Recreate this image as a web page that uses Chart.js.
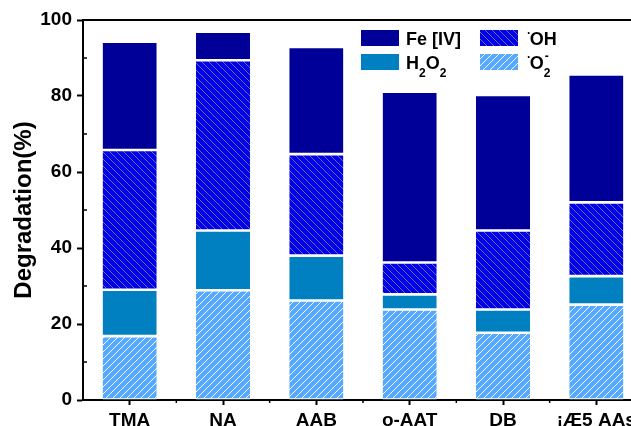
<!DOCTYPE html>
<html>
<head>
<meta charset="utf-8">
<script src="https://cdn.jsdelivr.net/npm/chart.js@4/dist/chart.umd.min.js"></script>
<style>
  html, body { margin: 0; padding: 0; background: #fff; }
  #wrap { width: 631px; height: 426px; overflow: hidden; position: relative; }
  canvas { display: block; }
</style>
</head>
<body>
<div id="wrap"><canvas id="c" width="680" height="426"></canvas></div>
<script>
// Degradation contribution of each reactive species, stacked per compound (%)
const categories = ['TMA', 'NA', 'AAB', 'o-AAT', 'DB', '¡Æ5 AAs'];
const superoxide       = [16.8, 28.9, 26.2, 23.8, 17.7, 25.1]; // ·O2-
const hydrogenPeroxide = [12.2, 15.7, 11.8,  4.0,  6.1,  7.5]; // H2O2
const hydroxyl         = [36.8, 44.8, 26.7,  8.4, 20.8, 19.4]; // ·OH
const ferryl           = [28.5,  7.5, 28.2, 44.9, 35.7, 33.7]; // Fe[IV]
const yMin = 0, yMax = 100, yStep = 20;

const FONT = "'Liberation Sans', Arial, Helvetica, sans-serif";
const canvas = document.getElementById('c');
const ctx = canvas.getContext('2d');

// diagonal hatch fill: dir '/' rises to the right, '\' falls to the right
function hatch(bg, line, dir, size) {
  const t = document.createElement('canvas');
  t.width = t.height = size;
  const g = t.getContext('2d');
  g.fillStyle = bg;
  g.fillRect(0, 0, size, size);
  g.strokeStyle = line;
  g.lineWidth = 1;
  g.beginPath();
  for (const o of [-size, 0, size]) {
    if (dir === '/') { g.moveTo(o, size); g.lineTo(o + size, 0); }
    else { g.moveTo(o, 0); g.lineTo(o + size, size); }
  }
  g.stroke();
  return ctx.createPattern(t, 'repeat');
}

const colFe = '#000099';
const colH2O2 = '#0080C0';
const patOH = hatch('#0000EE', '#6e6e90', '\\', 7);
const patO2 = hatch('#55AAFF', '#ffffff', '/', 7);

const segBorder = { top: 1.3, bottom: 1.3, left: 0, right: 0 };

// rich-text legend (sub/superscripts), laid out in two columns
const legendItems = [
  { fill: colFe, col: 0, row: 0, parts: [{ t: 'Fe [IV]' }] },
  { fill: patOH, col: 1, row: 0, parts: [{ t: '·', k: 'sup' }, { t: 'OH' }] },
  { fill: colH2O2, col: 0, row: 1, parts: [{ t: 'H' }, { t: '2', k: 'sub' }, { t: 'O' }, { t: '2', k: 'sub' }] },
  { fill: patO2, col: 1, row: 1, parts: [{ t: '·', k: 'sup' }, { t: 'O' }, { t: '2', k: 'sub', over: '-' }] }
];

const richLegend = {
  id: 'richLegend',
  afterDraw(chart) {
    const c = chart.ctx, a = chart.chartArea;
    const colX = [a.left + 278, a.left + 397];
    const rowY = [a.top + 10, a.top + 34];
    const bw = 38, bh = 16;
    c.save();
    c.textBaseline = 'alphabetic';
    c.textAlign = 'left';
    c.fillStyle = '#000';
    for (const it of legendItems) {
      const bx = colX[it.col], by = rowY[it.row];
      c.fillStyle = it.fill;
      c.fillRect(bx, by, bw, bh);
      c.fillStyle = '#000';
      let x = bx + bw + (it.col === 0 ? 7 : 9);
      const base = by + 15;
      for (const p of it.parts) {
        if (!p.k) {
          c.font = `bold 18px ${FONT}`;
          c.fillText(p.t, x, base);
          x += c.measureText(p.t).width;
        } else if (p.k === 'sup') {
          c.font = `bold 12px ${FONT}`;
          c.fillText(p.t, x, base - 8);
          x += c.measureText(p.t).width * 0.7;
        } else {
          c.font = `bold 12px ${FONT}`;
          c.fillText(p.t, x, base + 8);
          let w = c.measureText(p.t).width;
          if (p.over) {
            c.fillText(p.over, x + 1, base - 9);
            w = Math.max(w, c.measureText(p.over).width);
          }
          x += w;
        }
      }
    }
    c.restore();
  }
};

// top frame line and minor ticks on both axes
const frame = {
  id: 'frame',
  afterDraw(chart) {
    const c = chart.ctx, a = chart.chartArea;
    const x = chart.scales.x, y = chart.scales.y;
    c.save();
    c.strokeStyle = '#000';
    c.lineWidth = 2;
    c.beginPath();
    c.moveTo(a.left - 1, a.top);
    c.lineTo(a.right, a.top);
    c.stroke();
    c.lineWidth = 1.5;
    c.beginPath();
    for (let v = yMin + yStep / 2; v < yMax; v += yStep) {
      const py = y.getPixelForValue(v);
      c.moveTo(a.left, py);
      c.lineTo(a.left + 4, py);
    }
    for (let i = 0; i < categories.length - 1; i++) {
      const px = (x.getPixelForValue(i) + x.getPixelForValue(i + 1)) / 2;
      c.moveTo(px, a.bottom);
      c.lineTo(px, a.bottom + 3);
    }
    c.stroke();
    c.restore();
  }
};

new Chart(ctx, {
  type: 'bar',
  data: {
    labels: categories,
    datasets: [
      { label: '·O₂⁻', data: superoxide, backgroundColor: patO2 },
      { label: 'H₂O₂', data: hydrogenPeroxide, backgroundColor: colH2O2 },
      { label: '·OH', data: hydroxyl, backgroundColor: patOH },
      { label: 'Fe [IV]', data: ferryl, backgroundColor: colFe }
    ].map(d => Object.assign(d, {
      borderColor: '#ffffff',
      borderWidth: segBorder,
      borderSkipped: false,
      barPercentage: 0.58,
      categoryPercentage: 1.0
    }))
  },
  options: {
    responsive: false,
    animation: false,
    layout: { padding: { top: 20, right: 37, bottom: 0, left: 0 } },
    plugins: { legend: { display: false }, tooltip: { enabled: false } },
    scales: {
      x: {
        stacked: true,
        offset: true,
        grid: { display: true, drawOnChartArea: false, offset: false, drawTicks: true, tickLength: 5, tickWidth: 2, tickColor: '#000' },
        border: { display: true, color: '#000', width: 2 },
        ticks: { color: '#000', font: { family: FONT, size: 19, weight: 'bold' }, maxRotation: 0, autoSkip: false, padding: 4 },
        afterFit(s) { s.height = 26; }
      },
      y: {
        stacked: true,
        min: yMin, max: yMax,
        grid: { display: true, drawOnChartArea: false, drawTicks: true, tickLength: 6, tickWidth: 2, tickColor: '#000' },
        border: { display: true, color: '#000', width: 2 },
        ticks: { stepSize: yStep, color: '#000', font: { family: FONT, size: 19, weight: 'bold' }, padding: 5 },
        title: { display: true, text: 'Degradation(%)', color: '#000', font: { family: FONT, size: 24, weight: 'bold' }, padding: { top: 10, bottom: 0 } },
        afterFit(s) { s.width = 83; }
      }
    }
  },
  plugins: [frame, richLegend]
});
</script>
</body>
</html>
